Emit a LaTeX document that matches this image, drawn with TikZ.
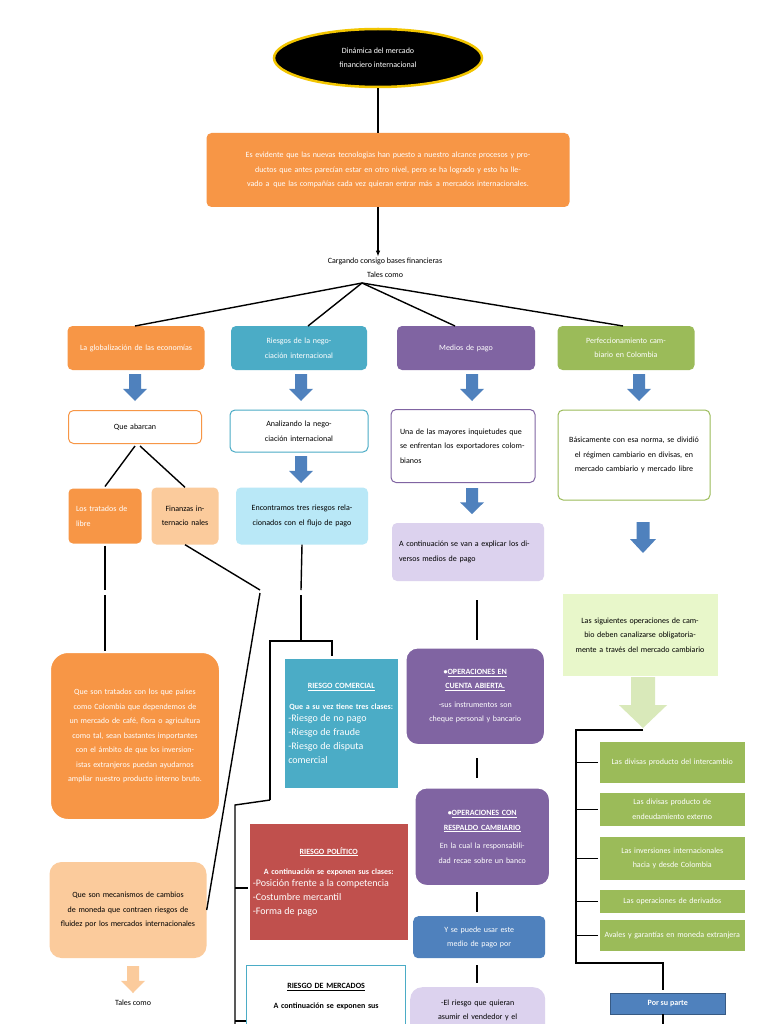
\documentclass[tikz,border=0pt]{standalone}
\usepackage{fontspec}
\setmainfont{Carlito}
\usetikzlibrary{shapes.geometric,arrows.meta}
\definecolor{cor}{HTML}{F79646}
\definecolor{clo}{HTML}{FBCB9C}
\definecolor{cbl}{HTML}{4BACC6}
\definecolor{clb}{HTML}{B9E8F7}
\definecolor{cpu}{HTML}{8064A2}
\definecolor{clp}{HTML}{DCD2EE}
\definecolor{cgr}{HTML}{9BBB59}
\definecolor{clg}{HTML}{E8F7CA}
\definecolor{cdb}{HTML}{4F81BD}
\definecolor{cre}{HTML}{C0504D}
\definecolor{cgo}{HTML}{F2C500}
\newcommand\fs{\fontsize{8}{14.5}\selectfont}
\newcommand\blkarrow[5]{% x, ytop, ybottom, width, color
  \fill[#5] ({#1-#4*0.25},#2) -- ({#1+#4*0.25},#2) -- ({#1+#4*0.25},{#3-(#3-#2)*0.45}) -- ({#1+#4*0.5},{#3-(#3-#2)*0.45}) -- (#1,#3) -- ({#1-#4*0.5},{#3-(#3-#2)*0.45}) -- ({#1-#4*0.25},{#3-(#3-#2)*0.45}) -- cycle;}
\begin{document}
\begin{tikzpicture}[x=1pt,y=-1pt,
  box/.style={rounded corners=5pt, align=center, inner sep=3pt, font=\fs},
  sq/.style={align=center, inner sep=3pt, font=\fs},
  ln/.style={line width=1.4pt},
  wt/.style={text=white}]
\useasboundingbox (0,0) rectangle (768,1024);
\fill[white] (0,0) rectangle (768,1024);
\coordinate (xa) at (378,0);
\coordinate (xb) at (105,0);
\coordinate (yc) at (0,888);
\coordinate (xd) at (576,0);
\coordinate (xe) at (663,0);

% top
\node[ellipse, fill=black, draw=cgo, line width=2.5pt, minimum width=208, minimum height=58, align=center, font=\fs, text=white] (title) at (378,58) {Dinámica del mercado\\financiero internacional};
\node[box, fill=cor, wt, minimum width=363, minimum height=74, text width=350] (intro) at (388,170) {Es evidente que las nuevas tecnologias han puesto a nuestro alcance procesos y productos que antes parecían estar en otro nivel, pero se ha logrado y esto ha llevado a\, que las compañías cada vez quieran entrar más\, a mercados internacionales.};
\draw[ln] (title.south) -- (title.south |- intro.north);
\node[font=\fs, align=center, inner sep=1pt] (carg) at (385,268) {Cargando consigo bases financieras\\Tales como};
\draw[ln,-{Latex[length=6pt]}] (378,207) -- (carg.north -| xa);
\coordinate (hub) at (362,283);

% row 1
\node[box, fill=cor, wt, minimum width=137, minimum height=44, text width=125] (glob) at (136,348) {La globalización de las economías};
\node[box, fill=cbl, wt, minimum width=136, minimum height=44, text width=125] (ries) at (299,348) {Riesgos de la negociación internacional};
\node[box, fill=cpu, wt, minimum width=138, minimum height=44, text width=125] (med) at (466,348) {Medios de pago};
\node[box, fill=cgr, wt, minimum width=137, minimum height=44, text width=125] (perf) at (626,348) {Perfeccionamiento cambiario en Colombia};
\foreach \n/\xx in {glob/135,ries/308,med/455,perf/623} \draw[ln] (hub) -- (\xx,326);

\blkarrow{135}{374}{401}{24}{cdb}
\blkarrow{301}{374}{401}{24}{cdb}
\blkarrow{472}{374}{401}{24}{cdb}
\blkarrow{639}{374}{401}{24}{cdb}

% row 2
\node[box, fill=white, draw=cor, line width=1pt, minimum width=133, minimum height=33, text width=120, anchor=north] (abar) at (135,410) {Que abarcan};
\node[box, fill=white, draw=cbl, line width=1pt, minimum width=138, minimum height=42, text width=126] (anal) at (299,431) {Analizando la negociación internacional};
\node[box, fill=white, draw=cpu, line width=1pt, minimum width=144, minimum height=73, text width=126, align=left] (una) at (463,446) {Una de las mayores inquietudes que se enfrentan los exportadores colombianos};
\node[box, fill=white, draw=cgr, line width=1pt, minimum width=152, minimum height=90, text width=130] (basi) at (634,455) {Básicamente con esa norma, se dividió el régimen cambiario en divisas, en mercado cambiario y mercado libre};

\node[box, fill=cor, draw=white, line width=2pt, wt, minimum width=75, minimum height=57, text width=58, align=left] (trat) at (105,516) {Los tratados de libre};
\node[box, fill=clo, minimum width=67, minimum height=57, text width=60] (fin) at (185,516) {Finanzas internacio nales};
\draw[ln] (135,446) -- (trat.north);
\draw[ln] (140,446) -- (fin.north);

\blkarrow{301}{456}{483}{24}{cdb}
\node[box, fill=clb, minimum width=132, minimum height=57, text width=124] (enc) at (302,516) {Encontramos tres riesgos relacionados con el flujo de pago};
\blkarrow{472}{488}{514}{24}{cdb}
\node[box, fill=clp, minimum width=152, minimum height=58, text width=138, align=left] (acont) at (468,552) {A continuación se van a explicar los diversos medios de pago};
\blkarrow{643}{522}{553}{26}{cdb}
\node[sq, fill=clg, draw=white, minimum width=156, minimum height=83, text width=145] (sig) at (640,635) {Las siguientes operaciones de cambio deben canalizarse obligatoriamente a través del mercado cambiario};
\blkarrow{643}{677}{728}{48}{clg!60!cgr!70}

% left column
\node[box, fill=cor, draw=white, line width=2pt, rounded corners=18pt, wt, minimum width=170, minimum height=168, text width=150] (qtrat) at (135,736) {Que son tratados con los que países como Colombia que dependemos de un mercado de café, flora o agricultura como tal, sean bastantes importantes con el ámbito de que los inversionistas extranjeros puedan ayudarnos ampliar nuestro producto interno bruto.};
\draw[ln] (trat.south) -- (105,590);
\draw[ln] (105,595) -- (qtrat.north -| xb);
\node[box, fill=clo, rounded corners=12pt, minimum width=157, minimum height=96, text width=140] (mec) at (128,910) {Que son mecanismos de cambios de moneda que contraen riesgos de fluidez por los mercados internacionales};
\draw[ln] (fin.south) -- (260,590);
\draw[ln] (260,593) -- (mec.east);
\blkarrow{133}{966}{993}{24}{clo}
\node[font=\fs] (tales) at (133,1003) {Tales como};

% risks
\draw[ln] (enc.south) -- (301,590);
\draw[ln] (301,595) -- (301,641) coordinate (rj);
\draw[ln] (270,800) -- (270,641) -- (332,641) -- (332,656);
\node[sq, fill=cbl, draw=white, line width=1.5pt, wt, minimum width=115, minimum height=131, text width=106, anchor=north west] (rcom) at (283,657) {\underline{\textbf{RIESGO COMERCIAL}}\\[6pt]\textbf{Que a su vez tiene tres clases:}\\[-2pt]
\raggedright\fontsize{10}{14}\selectfont -Riesgo de no pago\\-Riesgo de fraude\\-Riesgo de disputa comercial\par};
\node[sq, fill=cre, draw=white, line width=1.5pt, wt, minimum width=160, minimum height=118, text width=152, anchor=north west] (rpol) at (248,822) {\underline{\textbf{RIESGO POLÍTICO}}\\[6pt]\textbf{A continuación se exponen sus clases:}\\[-2pt]
\raggedright\fontsize{10}{14}\selectfont -Posición frente a la competencia\\-Costumbre mercantil\\-Forma de pago\par};
\node[sq, fill=white, draw=cbl, line width=1.2pt, minimum width=159, minimum height=70, anchor=north west, text width=150] (rmer) at (246,965) {\\[-4pt]\underline{\textbf{RIESGO DE MERCADOS}}\\[6pt]\textbf{A continuación se exponen sus}\\ \phantom{x}};
\draw[ln] (270,800) -- (235,805) -- (235,1024);
\draw[ln] (235,888) -- (rpol.west |- yc);
\draw[ln] (235,1021) -- (246,1021);

% payment column
\draw[ln] (477,600) -- (477,640);
\node[box, fill=cpu, draw=white, line width=1.5pt, rounded corners=12pt, wt, minimum width=139, minimum height=97, text width=128, anchor=north west] (ocab) at (405,647) {\textbf{•\underline{OPERACIONES EN}}\\\textbf{\underline{CUENTA ABIERTA.}}\\[4pt]-sus instrumentos son cheque personal y bancario};
\draw[ln] (477,758) -- (477,778);
\node[box, fill=cpu, draw=white, line width=1.5pt, rounded corners=12pt, wt, minimum width=135, minimum height=98, text width=128, anchor=north west] (ores) at (414,787) {\textbf{•\underline{OPERACIONES CON}}\\\textbf{\underline{RESPALDO CAMBIARIO}}\\[4pt]En la cual la responsabilidad recae sobre un banco};
\draw[ln] (477,892) -- (477,912);
\node[box, fill=cdb, wt, minimum width=132, minimum height=42, text width=124, anchor=north west] (yse) at (413,916) {Y se puede usar este medio de pago por};
\draw[ln] (477,965) -- (477,983);
\node[box, fill=clp, rounded corners=12pt, minimum width=135, minimum height=60, text width=128, anchor=north west] (elr) at (410,987) {-El riesgo que quieran asumir el vendedor y el\\ \phantom{x}};

% green list
\draw[ln] (643,730) -- (576,730) -- (576,963) -- (663,963) -- (663,990);
\node[sq, fill=cgr, draw=white, line width=1.5pt, wt, minimum width=147, minimum height=43, text width=140, anchor=north west] (g1) at (598,740) {Las divisas producto del intercambio};
\node[sq, fill=cgr, draw=white, line width=1.5pt, wt, minimum width=147, minimum height=35, text width=140, anchor=north west] (g2) at (598,791) {Las divisas producto de endeudamiento externo};
\node[sq, fill=cgr, draw=white, line width=1.5pt, wt, minimum width=147, minimum height=45, text width=140, anchor=north west] (g3) at (598,835) {Las inversiones internacionales hacia y desde Colombia};
\node[sq, fill=cgr, draw=white, line width=1.5pt, wt, minimum width=147, minimum height=25, text width=140, anchor=north west] (g4) at (598,888) {Las operaciones de derivados};
\node[sq, fill=cgr, draw=white, line width=1.5pt, wt, minimum width=147, minimum height=33, text width=140, anchor=north west] (g5) at (598,918) {Avales y garantías en moneda extranjera};
\foreach \g in {g1,g2,g3,g4,g5} \draw[ln] (\g.west) -- (\g.west -| xd);
\node[sq, fill=cdb, draw=cdb!70!black, wt, minimum width=115, minimum height=21, anchor=north west, font=\fs\bfseries] (por) at (610,993) {Por su parte};
\draw[ln] (por.south -| xe) -- (663,1024);
\end{tikzpicture}
\end{document}
